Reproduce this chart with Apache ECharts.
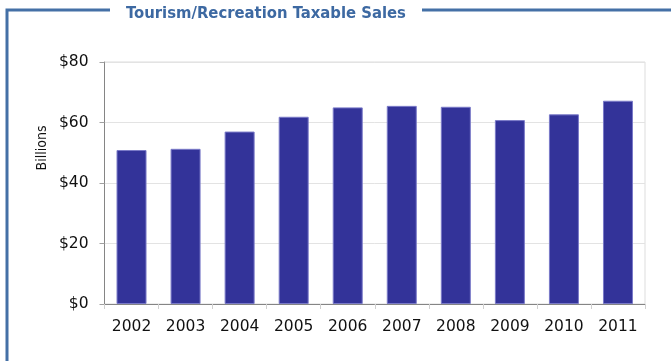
<!DOCTYPE html>
<html>
<head>
<meta charset="utf-8">
<script src="https://cdn.jsdelivr.net/npm/echarts@6/dist/echarts.min.js"></script>
<style>
  html, body { margin: 0; padding: 0; background: #ffffff; }
  #chart { width: 671px; height: 361px; }
</style>
</head>
<body>
<div id="chart"></div>
<script>
var titleText = 'Tourism/Recreation Taxable Sales';
var years = ['2002', '2003', '2004', '2005', '2006', '2007', '2008', '2009', '2010', '2011'];
var salesBillions = [50.9, 51.3, 57.0, 61.9, 65.0, 65.5, 65.2, 60.8, 62.7, 67.2];
var yTicks = [0, 20, 40, 60, 80];
var yAxisName = 'Billions';

var frameColor = '#4470a6';
var chart = echarts.init(document.getElementById('chart'), null, { renderer: 'canvas' });

chart.setOption({
  animation: false,
  backgroundColor: '#ffffff',
  grid: {
    left: 104.5, right: 26, top: 62, bottom: 57,
    show: true, borderColor: '#dddddd', borderWidth: 1, backgroundColor: 'transparent'
  },
  graphic: [
    { type: 'polyline', shape: { points: [[110, 10], [7, 10], [7, 361]] },
      style: { stroke: frameColor, lineWidth: 3, fill: null }, z: 10 },
    { type: 'line', shape: { x1: 422, y1: 10, x2: 671, y2: 10 },
      style: { stroke: frameColor, lineWidth: 3 }, z: 10 },
    { type: 'text',
      style: { text: titleText, x: 266, y: 14, align: 'center', verticalAlign: 'middle',
        fill: '#3d69a2', font: 'bold 16.5px "DejaVu Sans Condensed", "DejaVu Sans", sans-serif' }, z: 10 },
    { type: 'text', x: 42, y: 148, rotation: Math.PI / 2,
      style: { text: yAxisName, x: 0, y: 0, align: 'center', verticalAlign: 'middle',
        fill: '#111111', font: '14px "DejaVu Sans Condensed", "DejaVu Sans", sans-serif' }, z: 10 }
  ],
  xAxis: {
    type: 'category',
    data: years,
    boundaryGap: true,
    axisLine: { show: true, lineStyle: { color: '#858585', width: 1 } },
    axisTick: { show: true, length: 5, alignWithLabel: false, lineStyle: { color: '#d0d0d0' } },
    axisLabel: { color: '#111111', fontSize: 15.5, fontFamily: '"DejaVu Sans", sans-serif', margin: 15, interval: 0 },
    splitLine: { show: false }
  },
  yAxis: {
    type: 'value',
    min: yTicks[0], max: yTicks[yTicks.length - 1], interval: 20,
    axisLine: { show: true, lineStyle: { color: '#858585', width: 1 } },
    axisTick: { show: true, length: 5, lineStyle: { color: '#a0a0a0' } },
    axisLabel: { color: '#111111', fontSize: 15.5, fontFamily: '"DejaVu Sans", sans-serif', margin: 16,
      formatter: function (v) { return '$' + v; } },
    splitLine: { show: true, lineStyle: { color: '#e3e3e3', width: 1 } }
  },
  series: [{
    type: 'bar',
    data: salesBillions,
    barWidth: 30,
    itemStyle: { color: '#333399', borderColor: '#7a7ac8', borderWidth: 1 }
  }]
});
</script>
</body>
</html>
